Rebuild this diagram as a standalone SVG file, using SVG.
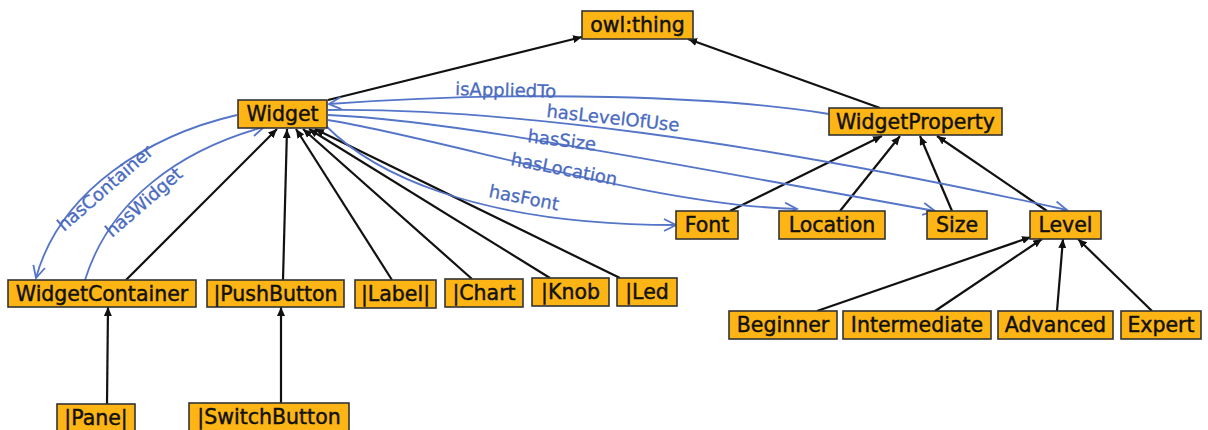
<svg xmlns="http://www.w3.org/2000/svg" width="1208" height="430" viewBox="0 0 1208 430">
<style>
.n rect{fill:#FDB515;stroke:#333;stroke-width:1.6}
.n text{font-family:"DejaVu Sans",sans-serif;font-size:20.5px;fill:#111;stroke:#111;stroke-width:0.45;text-anchor:middle}
.sub{fill:none;stroke:#111;stroke-width:2.2;marker-end:url(#tri)}
.rel{fill:none;stroke:#5575c8;stroke-width:1.8;marker-end:url(#vee)}
.lbl{font-family:"DejaVu Sans",sans-serif;font-size:18px;fill:#4a6bc0;stroke:#4a6bc0;stroke-width:0.3}
</style>
<defs>
<marker id="tri" markerUnits="userSpaceOnUse" markerWidth="10" markerHeight="8" refX="9" refY="4" orient="auto"><path d="M0,0 L9,4 L0,8 z" fill="#111"/></marker>
<marker id="vee" markerUnits="userSpaceOnUse" markerWidth="16" markerHeight="16" refX="13" refY="7" orient="auto"><path d="M1,1 L13,7 L1,13" fill="none" stroke="#5575c8" stroke-width="1.8"/></marker>
</defs>
<rect width="1208" height="430" fill="#fff"/>
<g id="connectors">
<path class="sub" d="M328,100 L582,37"/>
<path class="sub" d="M880,108 L688,39"/>
<path class="sub" d="M126,280 L277,129"/>
<path class="sub" d="M283,280 L287,129"/>
<path class="sub" d="M392,280 L296,129"/>
<path class="sub" d="M472,279 L303,129"/>
<path class="sub" d="M550,278 L309,129"/>
<path class="sub" d="M620,278 L315,129"/>
<path class="sub" d="M107,404 L108,307"/>
<path class="sub" d="M281,403 L281,307"/>
<path class="sub" d="M730,211 L882,136"/>
<path class="sub" d="M840,211 L900,136"/>
<path class="sub" d="M952,211 L920,136"/>
<path class="sub" d="M1047,211 L937,136"/>
<path class="sub" d="M817,311 L1031,237"/>
<path class="sub" d="M935,311 L1042,239"/>
<path class="sub" d="M1057,311 L1063,239"/>
<path class="sub" d="M1152,311 L1078,239"/>
<path class="rel" d="M829,114 C720,96 520,90 329,104"/>
<path class="rel" d="M328,110 C500,108 750,140 1067,210"/>
<path class="rel" d="M328,115 C450,120 650,160 935,211"/>
<path class="rel" d="M328,120 C450,140 650,205 797,209"/>
<path class="rel" d="M326,126 C370,170 470,225 676,225"/>
<path class="rel" d="M237,115 C150,135 60,190 36,278"/>
<path class="rel" d="M85,280 C110,200 180,150 264,127"/>
<text class="lbl" x="455" y="95" transform="rotate(1.5 455 95)">isAppliedTo</text>
<text class="lbl" x="546" y="117" transform="rotate(6.2 546 117)">hasLevelOfUse</text>
<text class="lbl" x="527" y="142" transform="rotate(7.3 527 142)">hasSize</text>
<text class="lbl" x="510" y="165" transform="rotate(11 510 165)">hasLocation</text>
<text class="lbl" x="488" y="197" transform="rotate(11 488 197)">hasFont</text>
<text class="lbl" x="64" y="232" font-size="19" transform="rotate(-41 64 232)">hasContainer</text>
<text class="lbl" x="112" y="238" font-size="19" transform="rotate(-41 112 238)">hasWidget</text>
</g>
<g id="owl-thing" class="n"><rect x="582" y="11" width="111" height="28"/><text x="637.5" y="31.5">owl:thing</text></g>
<g id="widget" class="n"><rect x="238" y="100" width="89" height="28"/><text x="282.5" y="120.5">Widget</text></g>
<g id="widget-property" class="n"><rect x="829" y="108" width="173" height="27"/><text x="915.5" y="128.5">WidgetProperty</text></g>
<g id="widget-container" class="n"><rect x="8" y="280" width="188" height="27"/><text x="102" y="300.5">WidgetContainer</text></g>
<g id="push-button" class="n"><rect x="207" y="280" width="137" height="27"/><text x="275.5" y="300.5">|PushButton</text></g>
<g id="label" class="n"><rect x="355" y="280" width="81" height="28"/><text x="395.5" y="300.5">|Label|</text></g>
<g id="chart" class="n"><rect x="445" y="279" width="78" height="28"/><text x="484" y="299.5">|Chart</text></g>
<g id="knob" class="n"><rect x="532" y="278" width="77" height="28"/><text x="570.5" y="298.5">|Knob</text></g>
<g id="led" class="n"><rect x="617" y="278" width="60" height="28"/><text x="647" y="298.5">|Led</text></g>
<g id="font" class="n"><rect x="676" y="211" width="62" height="28"/><text x="707" y="231.5">Font</text></g>
<g id="location" class="n"><rect x="779" y="211" width="106" height="28"/><text x="832" y="231.5">Location</text></g>
<g id="size" class="n"><rect x="927" y="211" width="60" height="28"/><text x="957" y="231.5">Size</text></g>
<g id="level" class="n"><rect x="1030" y="211" width="71" height="28"/><text x="1065.5" y="231.5">Level</text></g>
<g id="beginner" class="n"><rect x="729" y="311" width="108" height="28"/><text x="783" y="331.5">Beginner</text></g>
<g id="intermediate" class="n"><rect x="843" y="311" width="148" height="28"/><text x="917" y="331.5">Intermediate</text></g>
<g id="advanced" class="n"><rect x="998" y="311" width="115" height="28"/><text x="1055.5" y="331.5">Advanced</text></g>
<g id="expert" class="n"><rect x="1121" y="311" width="80" height="28"/><text x="1161" y="331.5">Expert</text></g>
<g id="pane" class="n"><rect x="57" y="404" width="78" height="28"/><text x="96" y="424.5">|Pane|</text></g>
<g id="switch-button" class="n"><rect x="189" y="403" width="160" height="28"/><text x="269" y="423.5">|SwitchButton</text></g>
</svg>
